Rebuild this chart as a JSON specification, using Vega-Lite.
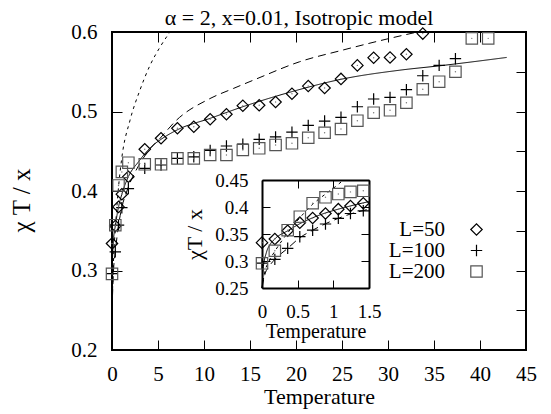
{
"$schema":"https://vega.github.io/schema/vega-lite/v6.json",
"width":414,"height":318,
"autosize":{"type":"none"},
"padding":{"left":112,"top":32,"right":25,"bottom":64},
"background":"white",
"title":{"text":"α = 2, x=0.01, Isotropic model","font":"Liberation Serif","fontSize":22,"fontWeight":"normal","color":"black","offset":7,"dy":16,"dx":-20,"frame":"group"},
"config":{
 "font":"Liberation Serif",
 "view":{"stroke":"black","strokeWidth":2},
 "axis":{"grid":false,"labelFont":"Liberation Serif","titleFont":"Liberation Serif","labelColor":"black","titleColor":"black","tickColor":"black","domainColor":"black","titleFontWeight":"normal","labelFlush":false,"labelOverlap":false,"tickWidth":1},
 "legend":{"labelFont":"Liberation Serif"}
},
"datasets":{
"mainPts":[
{"L":"L=50","T":0,"y":0.334},{"L":"L=50","T":0.36,"y":0.356},{"L":"L=50","T":0.71,"y":0.38},{"L":"L=50","T":1.07,"y":0.396},{"L":"L=50","T":1.78,"y":0.418},{"L":"L=50","T":3.56,"y":0.4525},{"L":"L=50","T":5.33,"y":0.4663},{"L":"L=50","T":7.11,"y":0.4789},{"L":"L=50","T":8.89,"y":0.4809},{"L":"L=50","T":10.67,"y":0.4902},{"L":"L=50","T":12.44,"y":0.4965},{"L":"L=50","T":14.22,"y":0.5073},{"L":"L=50","T":16.0,"y":0.5078},{"L":"L=50","T":17.78,"y":0.512},{"L":"L=50","T":19.56,"y":0.5224},{"L":"L=50","T":21.33,"y":0.532},{"L":"L=50","T":23.11,"y":0.5296},{"L":"L=50","T":24.89,"y":0.541},{"L":"L=50","T":26.67,"y":0.558},{"L":"L=50","T":28.44,"y":0.5677},{"L":"L=50","T":30.22,"y":0.568},{"L":"L=50","T":32.0,"y":0.572},{"L":"L=50","T":33.78,"y":0.598},
{"L":"L=100","T":0,"y":0.296},{"L":"L=100","T":0.36,"y":0.3235},{"L":"L=100","T":0.71,"y":0.357},{"L":"L=100","T":1.07,"y":0.379},{"L":"L=100","T":1.78,"y":0.403},{"L":"L=100","T":3.56,"y":0.4285},{"L":"L=100","T":5.33,"y":0.4327},{"L":"L=100","T":7.11,"y":0.441},{"L":"L=100","T":8.89,"y":0.443},{"L":"L=100","T":10.67,"y":0.451},{"L":"L=100","T":12.44,"y":0.4566},{"L":"L=100","T":14.22,"y":0.459},{"L":"L=100","T":16.0,"y":0.465},{"L":"L=100","T":17.78,"y":0.468},{"L":"L=100","T":19.56,"y":0.474},{"L":"L=100","T":21.33,"y":0.4826},{"L":"L=100","T":23.11,"y":0.488},{"L":"L=100","T":24.89,"y":0.4927},{"L":"L=100","T":26.67,"y":0.506},{"L":"L=100","T":28.44,"y":0.5157},{"L":"L=100","T":30.22,"y":0.5178},{"L":"L=100","T":32.0,"y":0.5274},{"L":"L=100","T":33.78,"y":0.545},{"L":"L=100","T":35.56,"y":0.558},{"L":"L=100","T":37.33,"y":0.5664},
{"L":"L=200","T":0,"y":0.2957},{"L":"L=200","T":0.36,"y":0.357},{"L":"L=200","T":0.71,"y":0.407},{"L":"L=200","T":1.07,"y":0.424},{"L":"L=200","T":1.78,"y":0.4356},{"L":"L=200","T":3.56,"y":0.4336},{"L":"L=200","T":5.33,"y":0.4336},{"L":"L=200","T":7.11,"y":0.441},{"L":"L=200","T":8.89,"y":0.441},{"L":"L=200","T":10.67,"y":0.4453},{"L":"L=200","T":12.44,"y":0.4453},{"L":"L=200","T":14.22,"y":0.4516},{"L":"L=200","T":16.0,"y":0.4537},{"L":"L=200","T":17.78,"y":0.4579},{"L":"L=200","T":19.56,"y":0.46},{"L":"L=200","T":21.33,"y":0.467},{"L":"L=200","T":23.11,"y":0.4733},{"L":"L=200","T":24.89,"y":0.478},{"L":"L=200","T":26.67,"y":0.4884},{"L":"L=200","T":28.44,"y":0.4985},{"L":"L=200","T":30.22,"y":0.5015},{"L":"L=200","T":32.0,"y":0.511},{"L":"L=200","T":33.78,"y":0.528},{"L":"L=200","T":35.56,"y":0.5375},{"L":"L=200","T":37.33,"y":0.55},{"L":"L=200","T":39.11,"y":0.592},{"L":"L=200","T":40.89,"y":0.592}
],
"mainCurves":[
{"c":"fit","T":0,"y":0.25},{"c":"fit","T":0.06,"y":0.315},{"c":"fit","T":0.18,"y":0.341},{"c":"fit","T":0.36,"y":0.356},{"c":"fit","T":0.71,"y":0.38},{"c":"fit","T":1.07,"y":0.396},{"c":"fit","T":1.78,"y":0.418},{"c":"fit","T":2.9,"y":0.437},{"c":"fit","T":4.3,"y":0.456},{"c":"fit","T":5.33,"y":0.465},{"c":"fit","T":7.11,"y":0.477},{"c":"fit","T":10.67,"y":0.4914},{"c":"fit","T":14.22,"y":0.506},{"c":"fit","T":19.56,"y":0.525},{"c":"fit","T":24.89,"y":0.5405},{"c":"fit","T":31.3,"y":0.552},{"c":"fit","T":35.7,"y":0.5576},{"c":"fit","T":42.9,"y":0.568},
{"c":"long","T":0,"y":0.25},{"c":"long","T":0.18,"y":0.303},{"c":"long","T":0.36,"y":0.3235},{"c":"long","T":0.71,"y":0.357},{"c":"long","T":1.07,"y":0.379},{"c":"long","T":1.78,"y":0.405},{"c":"long","T":2.9,"y":0.432},{"c":"long","T":4.3,"y":0.455},{"c":"long","T":5.2,"y":0.466},{"c":"long","T":7.0,"y":0.489},{"c":"long","T":10.6,"y":0.516},{"c":"long","T":13.2,"y":0.529},{"c":"long","T":15.7,"y":0.541},{"c":"long","T":20.4,"y":0.5626},{"c":"long","T":25,"y":0.577},{"c":"long","T":29.1,"y":0.589},{"c":"long","T":33.2,"y":0.6},
{"c":"short","T":0,"y":0.25},{"c":"short","T":0.18,"y":0.318},{"c":"short","T":0.36,"y":0.352},{"c":"short","T":0.71,"y":0.405},{"c":"short","T":1.07,"y":0.442},{"c":"short","T":1.96,"y":0.489},{"c":"short","T":3.04,"y":0.527},{"c":"short","T":4.13,"y":0.558},{"c":"short","T":5.22,"y":0.581},{"c":"short","T":6.3,"y":0.6}
],
"insetPts":[
{"L":"L=50","T":0,"y":0.334},{"L":"L=50","T":0.18,"y":0.3407},{"L":"L=50","T":0.36,"y":0.356},{"L":"L=50","T":0.53,"y":0.371},{"L":"L=50","T":0.71,"y":0.3796},{"L":"L=50","T":0.89,"y":0.388},{"L":"L=50","T":1.07,"y":0.396},{"L":"L=50","T":1.24,"y":0.4018},{"L":"L=50","T":1.42,"y":0.407},
{"L":"L=100","T":0,"y":0.296},{"L":"L=100","T":0.18,"y":0.303},{"L":"L=100","T":0.36,"y":0.3235},{"L":"L=100","T":0.53,"y":0.345},{"L":"L=100","T":0.71,"y":0.357},{"L":"L=100","T":0.89,"y":0.3685},{"L":"L=100","T":1.07,"y":0.379},{"L":"L=100","T":1.24,"y":0.388},{"L":"L=100","T":1.42,"y":0.393},
{"L":"L=200","T":0,"y":0.2957},{"L":"L=200","T":0.18,"y":0.319},{"L":"L=200","T":0.36,"y":0.357},{"L":"L=200","T":0.53,"y":0.382},{"L":"L=200","T":0.71,"y":0.407},{"L":"L=200","T":0.89,"y":0.418},{"L":"L=200","T":1.07,"y":0.424},{"L":"L=200","T":1.24,"y":0.428},{"L":"L=200","T":1.42,"y":0.43}
],
"insetCurves":[
{"c":"fit","T":0,"y":0.25},{"c":"fit","T":0.02,"y":0.29},{"c":"fit","T":0.06,"y":0.315},{"c":"fit","T":0.12,"y":0.332},{"c":"fit","T":0.18,"y":0.341},{"c":"fit","T":0.36,"y":0.356},{"c":"fit","T":0.53,"y":0.369},{"c":"fit","T":0.71,"y":0.38},{"c":"fit","T":0.89,"y":0.389},{"c":"fit","T":1.07,"y":0.396},{"c":"fit","T":1.24,"y":0.402},{"c":"fit","T":1.5,"y":0.41},
{"c":"long","T":0,"y":0.25},{"c":"long","T":0.04,"y":0.275},{"c":"long","T":0.1,"y":0.29},{"c":"long","T":0.18,"y":0.303},{"c":"long","T":0.36,"y":0.3235},{"c":"long","T":0.53,"y":0.343},{"c":"long","T":0.71,"y":0.357},{"c":"long","T":0.89,"y":0.369},{"c":"long","T":1.07,"y":0.379},{"c":"long","T":1.24,"y":0.387},{"c":"long","T":1.5,"y":0.396},
{"c":"short","T":0,"y":0.25},{"c":"short","T":0.04,"y":0.28},{"c":"short","T":0.1,"y":0.3},{"c":"short","T":0.18,"y":0.318},{"c":"short","T":0.36,"y":0.352},{"c":"short","T":0.53,"y":0.38},{"c":"short","T":0.71,"y":0.405},{"c":"short","T":0.89,"y":0.424},{"c":"short","T":1.07,"y":0.442},{"c":"short","T":1.14,"y":0.45}
]
},
"layer":[
{"layer":[
 {"data":{"name":"mainCurves"},"mark":{"type":"line","color":"black","strokeWidth":1,"interpolate":"monotone"},
  "encoding":{
   "x":{"field":"T","type":"quantitative","scale":{"domain":[0,45],"nice":false,"zero":false},"axis":{"orient":"bottom","values":[0,5,10,15,20,25,30,35,40,45],"format":"~g","title":"Temperature","titleFont":"Liberation Serif","labelFont":"Liberation Serif","titleFontSize":22,"labelFontSize":21,"tickSize":-10,"labelPadding":23,"titlePadding":2,"domain":false}},
   "y":{"field":"y","type":"quantitative","scale":{"domain":[0.2,0.6],"nice":false,"zero":false},"axis":{"orient":"left","values":[0.2,0.25,0.3,0.35,0.4,0.45,0.5,0.55,0.6],"format":"~g","title":"χ T / x","titleFont":"Liberation Serif","labelFont":"Liberation Serif","titleFontSize":25,"labelFontSize":21,"tickSize":-10,"labelPadding":25,"titlePadding":36,"titleY":168,"domain":false}},
   "detail":{"field":"c","type":"nominal"},
   "strokeDash":{"field":"c","type":"nominal","scale":{"domain":["fit","long","short"],"range":[[1,0],[8,5],[3,4]]},"legend":null}
  }},
 {"data":{"name":"mainPts"},"mark":{"type":"point","filled":false,"strokeWidth":1.2,"opacity":1,"size":130},
  "encoding":{
   "x":{"field":"T","type":"quantitative"},
   "y":{"field":"y","type":"quantitative"},
   "shape":{"field":"L","type":"nominal","scale":{"domain":["L=50","L=100","L=200"],"range":["diamond","M-1,0H1M0,-1V1","square"]},
     "legend":{"orient":"none","legendX":354,"legendY":187,"title":null,"labelFont":"Liberation Serif","labelFontSize":21,"labelColor":"black","labelAlign":"right","labelOffset":-42,"rowPadding":-4,"symbolSize":130,"symbolStrokeWidth":1.2}},
   "stroke":{"field":"L","type":"nominal","scale":{"domain":["L=50","L=100","L=200"],"range":["black","black","#555"]},
     "legend":{"orient":"none","legendX":354,"legendY":187,"title":null,"labelFont":"Liberation Serif","labelFontSize":21,"labelColor":"black","labelAlign":"right","labelOffset":-42,"rowPadding":-4,"symbolSize":130,"symbolStrokeWidth":1.2}}
  }},
 {"data":{"name":"mainPts"},"transform":[{"filter":"datum.L !== 'L=100'"}],"mark":{"type":"circle","size":2,"color":"#777","opacity":1},
  "encoding":{"x":{"field":"T","type":"quantitative"},"y":{"field":"y","type":"quantitative"}}}
]},
{"data":{"name":"mainPts"},"mark":{"type":"point","opacity":0},
 "encoding":{
  "x":{"field":"T","type":"quantitative","scale":{"domain":[0,45],"nice":false,"zero":false},"axis":{"orient":"top","values":[0,5,10,15,20,25,30,35,40,45],"labels":false,"title":null,"tickSize":-10,"domain":false}},
  "y":{"field":"y","type":"quantitative","scale":{"domain":[0.2,0.6],"nice":false,"zero":false},"axis":{"orient":"right","values":[0.2,0.25,0.3,0.35,0.4,0.45,0.5,0.55,0.6],"labels":false,"title":null,"tickSize":-10,"domain":false}}
 }},
{"layer":[
 {"data":{"name":"insetCurves"},"mark":{"type":"line","color":"black","strokeWidth":1,"interpolate":"monotone"},
  "encoding":{
   "x":{"field":"T","type":"quantitative","scale":{"domain":[0,1.5],"range":[150,257],"nice":false,"zero":false},"axis":{"orient":"bottom","offset":-62,"values":[0,0.5,1,1.5],"format":"~g","title":"Temperature","titleFont":"Liberation Serif","labelFont":"Liberation Serif","titleFontSize":20,"labelFontSize":19,"tickSize":-8,"labelPadding":22,"titlePadding":0,"domain":true,"domainWidth":2}},
   "y":{"field":"y","type":"quantitative","scale":{"domain":[0.25,0.45],"range":[256,148],"nice":false,"zero":false},"axis":{"orient":"left","offset":-150,"values":[0.25,0.3,0.35,0.4,0.45],"format":"~g","title":"χT / x","titleFont":"Liberation Serif","labelFont":"Liberation Serif","titleFontSize":22,"labelFontSize":19,"tickSize":-8,"labelPadding":22,"titlePadding":8,"domain":true,"domainWidth":2}},
   "detail":{"field":"c","type":"nominal"},
   "strokeDash":{"field":"c","type":"nominal","scale":{"domain":["fit","long","short"],"range":[[1,0],[8,5],[3,4]]},"legend":null}
  }},
 {"data":{"name":"insetPts"},"mark":{"type":"point","filled":false,"strokeWidth":1.2,"opacity":1,"size":130},
  "encoding":{
   "x":{"field":"T","type":"quantitative"},
   "y":{"field":"y","type":"quantitative"},
   "shape":{"field":"L","type":"nominal","scale":{"domain":["L=50","L=100","L=200"],"range":["diamond","M-1,0H1M0,-1V1","square"]},"legend":null},
   "stroke":{"field":"L","type":"nominal","scale":{"domain":["L=50","L=100","L=200"],"range":["black","black","#555"]},"legend":null}
  }},
 {"data":{"name":"insetPts"},"transform":[{"filter":"datum.L !== 'L=100'"}],"mark":{"type":"circle","size":2,"color":"#777","opacity":1},
  "encoding":{"x":{"field":"T","type":"quantitative"},"y":{"field":"y","type":"quantitative"}}}
]},
{"data":{"name":"insetPts"},"mark":{"type":"point","opacity":0},
 "encoding":{
  "x":{"field":"T","type":"quantitative","scale":{"domain":[0,1.5],"range":[150,257],"nice":false,"zero":false},"axis":{"orient":"top","offset":-148,"values":[0,0.5,1,1.5],"labels":false,"title":null,"tickSize":-8,"domain":true,"domainWidth":2}},
  "y":{"field":"y","type":"quantitative","scale":{"domain":[0.25,0.45],"range":[256,148],"nice":false,"zero":false},"axis":{"orient":"right","offset":-157,"values":[0.25,0.3,0.35,0.4,0.45],"labels":false,"title":null,"tickSize":-8,"domain":true,"domainWidth":2}}
 }}
],
"resolve":{"scale":{"x":"independent","y":"independent","shape":"independent","stroke":"independent","strokeDash":"independent"},"axis":{"x":"independent","y":"independent"}}
}
